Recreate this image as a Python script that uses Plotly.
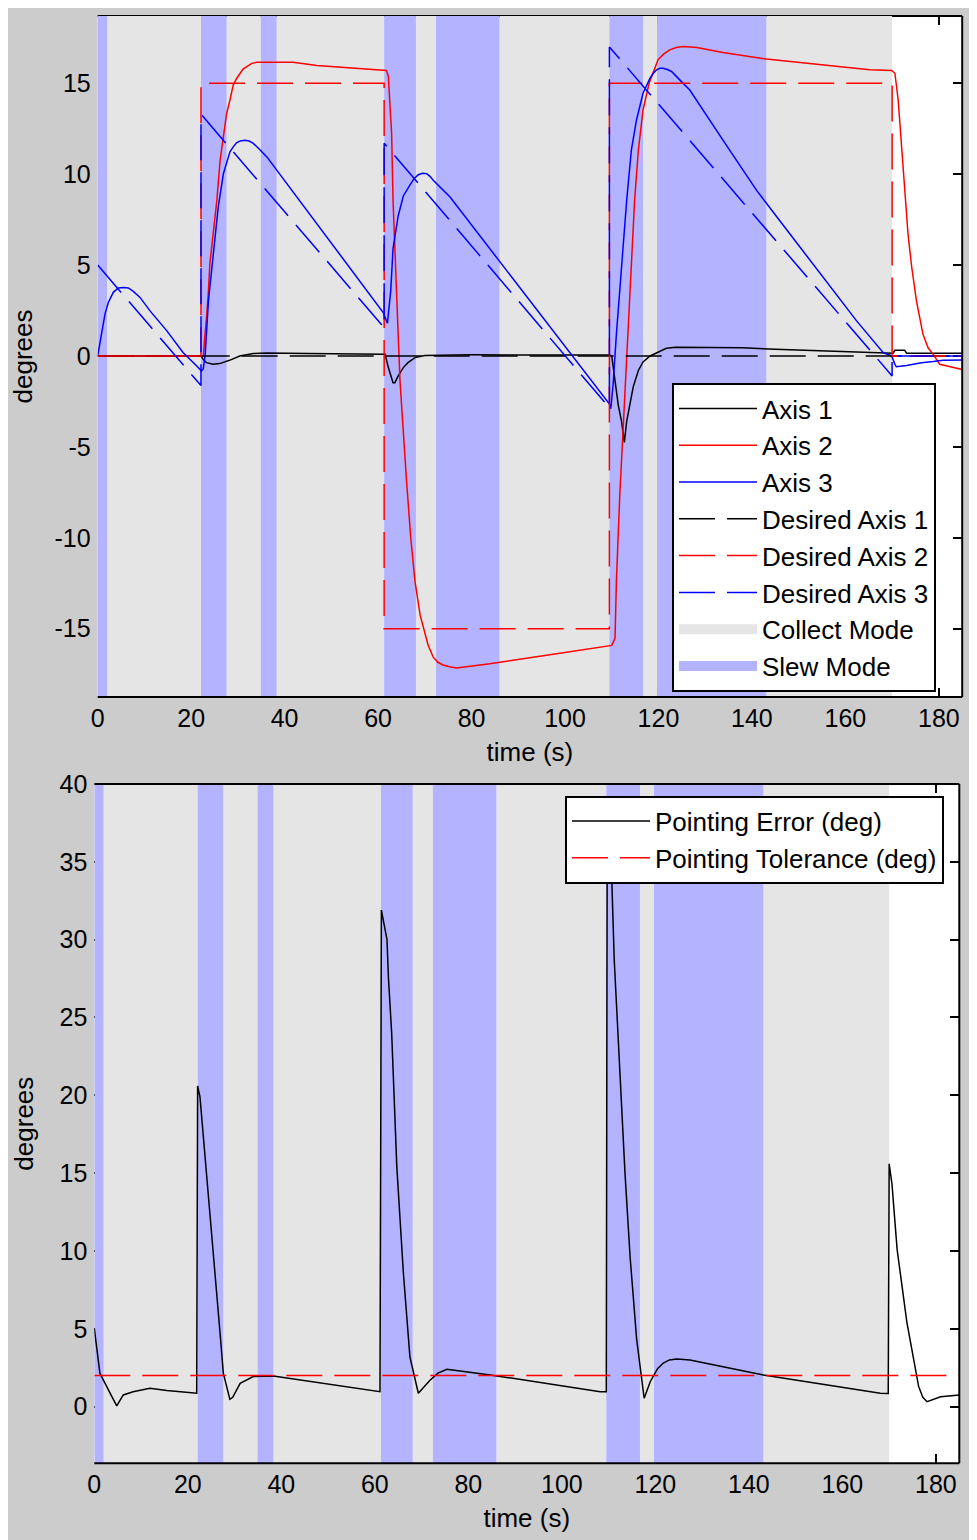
import plotly.graph_objects as go

W, H = 977, 1540
OFF = 8  # the page's body margin; figure coordinates = page coordinates - OFF

# ---------------- data ----------------
slew_start = [0.0, 22.1, 34.9, 61.3, 72.4, 109.5, 119.7]
slew_end = [2.0, 27.6, 38.3, 68.1, 86.0, 116.7, 143.1]
collect_start = [2.0, 27.6, 38.3, 68.1, 86.0, 116.7, 143.1]
collect_end = [22.1, 34.9, 61.3, 72.4, 109.5, 119.7, 170.0]

t_ax1 = [0, 22.1, 22.6, 23.3, 24.7, 26.1, 28.2, 30.4, 33.3, 36.2, 45, 55, 61.5, 62.2, 62.9, 63.2,
         63.6, 64.3, 65.4, 66.4, 67.9, 70, 80, 95, 109.5, 110.0, 110.7, 111.4, 112.1, 112.4, 112.7,
         113.2, 113.9, 114.6, 115.7, 116.7, 118.2, 119.6, 121.7, 123.7, 130, 138, 145, 155, 165,
         170.0, 170.2, 170.6, 172.7, 173.1, 178, 185]
ax1 = [0, 0, -0.2, -0.37, -0.46, -0.42, -0.24, 0.0, 0.13, 0.16, 0.14, 0.12, 0.1, -0.64, -1.2, -1.47,
       -1.47, -1.1, -0.64, -0.37, -0.09, 0.02, 0.06, 0.06, 0.05, 0.0, -1.4, -2.7, -3.6, -4.1, -4.75,
       -3.6, -2.65, -1.7, -0.8, -0.33, 0.0, 0.18, 0.42, 0.48, 0.47, 0.45, 0.37, 0.28, 0.2,
       0.18, 0.15, 0.31, 0.31, 0.15, 0.15, 0.15]

t_ax2 = [0, 22.6, 22.96, 23.3, 23.7, 24.0, 24.7, 25.5, 26.2, 26.9, 27.6, 28.3, 29.0, 29.7, 30.4,
         31.1, 31.9, 32.9, 34.0, 41.8, 46.9, 56.1, 61.8, 62.2, 62.9, 63.2, 63.6, 64.0, 64.3, 64.7,
         65.6, 66.1, 67.0, 67.9, 69.0, 69.8, 70.7, 71.8, 72.8, 73.9, 75.3, 76.8, 78.9, 81.8, 83.9,
         98.2, 110.0, 110.7, 111.0, 111.7, 112.4, 113.0, 113.5, 114.2, 114.9, 115.7, 116.7, 118.0,
         118.9, 119.9, 121.1, 122.4, 123.8, 125.3, 128.2, 133.8, 143.1, 155.2, 165.2, 169.9, 170.6,
         171.3, 172.4, 173.4, 174.2, 175.2, 176.6, 177.7, 178.8, 180.2, 185]
ax2 = [0, 0, 1.2, 2.1, 3.6, 5.06, 6.7, 8.56, 10.77, 12.05, 13.35, 14.08, 14.9, 15.25, 15.55,
       15.78, 15.92, 16.08, 16.16, 16.16, 15.98, 15.79, 15.7, 15.37, 12.24, 8.56, 6.17, 3.04, 1.2,
       -1.4, -5.06, -6.9, -10.03, -12.4, -14.26, -15.1, -15.9, -16.57, -16.85, -17.0, -17.1, -17.16,
       -17.1, -16.99, -16.93, -16.38, -15.92, -15.55, -12.4, -7.8, -4.14, -1.8, 1.2, 4.88, 8.56,
       11.32, 13.53, 15.0, 15.65, 16.29, 16.6, 16.84, 16.97, 17.02, 16.97, 16.69, 16.33, 16.01,
       15.74, 15.7, 15.55, 14.08, 10.4, 6.72, 4.88, 3.04, 1.2, 0.45, 0.09, -0.46, -0.74]

t_ax3 = [0, 0.28, 0.86, 1.56, 2.27, 3.34, 4.41, 5.48, 6.55, 7.62, 9.05, 11.2, 14.8, 18.3, 21.2,
         22.2, 22.6, 23.0, 23.7, 24.7, 25.8, 26.9, 28.3, 29.0, 29.7, 30.5, 31.5, 32.4, 33.3, 34.5,
         36.2, 61.1, 61.5, 62.0, 62.7, 63.2, 64.3, 65.4, 66.8, 67.7, 68.6, 69.5, 70.4, 71.1, 71.8,
         73.0, 75.4, 109.6, 109.8, 110.3, 111.0, 112.1, 113.2, 114.2, 115.3, 116.7, 118.2, 118.9,
         119.6, 120.3, 121.0, 121.9, 122.8, 124.5, 126.7, 133.8, 141.0, 148.1, 155.2, 162.4, 168.1,
         169.9, 170.6, 170.9, 173.1, 176.3, 178.8, 180.9, 185]
ax3 = [0, 0.46, 1.38, 2.3, 2.94, 3.5, 3.74, 3.77, 3.74, 3.55, 3.22, 2.48, 1.38, 0.18, -0.55,
       -0.83, -0.7, 0.09, 3.04, 5.6, 8.2, 10.03, 11.23, 11.5, 11.72, 11.83, 11.87, 11.82, 11.69, 11.4,
       10.95, 2.39, 2.1, 1.8, 3.55, 5.9, 7.7, 8.8, 9.4, 9.75, 9.97, 10.05, 10.03, 9.88, 9.66,
       9.35, 8.74, -2.67, -2.9, -1.56, 1.2, 4.88, 8.56, 11.32, 12.98, 14.45, 15.28, 15.55,
       15.74, 15.82, 15.83, 15.76, 15.65, 15.2, 14.63, 11.87, 9.11, 6.72, 4.32, 1.93, 0.18,
       0.0, -0.46, -0.59, -0.52, -0.37, -0.31, -0.24, -0.22]

t_des1 = [0, 185]
des1 = [0, 0]
t_des2 = [0, 22.1, 22.1, 61.3, 61.3, 109.5, 109.5, 170.0, 170.0, 185]
des2 = [0, 0, 15, 15, -15, -15, 15, 15, 0, 0]
t_des3 = [0, 22.1, 22.1, 61.3, 61.3, 109.5, 109.5, 170.0, 170.0, 185]
des3 = [5.0, -1.63, 13.3, 1.55, 11.7, -2.85, 17.0, -1.1, 0, 0]

t_err = [0, 1.2, 3.4, 4.8, 6.2, 8.3, 11.9, 15.5, 21.9, 22.1, 22.6, 23.3, 24.0, 25.5, 26.9, 27.6,
         29.0, 29.6, 31.2, 34.0, 38.3, 61.1, 61.4, 62.6, 62.9, 63.6, 64.3, 64.7, 66.1, 67.5, 69.3,
         70.5, 71.8, 73.5, 75.4, 84.7, 108.2, 109.5, 109.7, 110.2, 110.7, 111.2, 112.1, 113.2,
         113.5, 114.6, 116.0, 117.6, 118.9, 120.5, 121.7, 123.0, 124.6, 127.4, 143.1, 168.1, 169.8,
         170.0, 170.6, 171.7, 173.8, 176.3, 177.2, 178.1, 181.0, 185]
err = [5.03, 2.14, 0.85, 0.05, 0.75, 0.96, 1.18, 1.03, 0.86, 20.6, 19.9, 17.5, 15.0, 9.85, 4.7, 2.14,
       0.47, 0.6, 1.5, 1.93, 1.97, 0.96, 31.9, 30.0, 27.6, 24.0, 18.0, 15.4, 8.6, 3.2, 0.86,
       1.25, 1.7, 2.15, 2.4, 2.04, 0.96, 0.95, 37.5, 35.8, 33.6, 28.7, 23.3, 17.3,
       15.0, 9.6, 4.3, 0.54, 1.6, 2.45, 2.8, 3.0, 3.06, 3.0, 2.04, 0.86, 0.85,
       15.6, 14.3, 10.1, 5.4, 1.3, 0.6, 0.32, 0.64, 0.75]
t_tol = [0, 185]
tol = [2, 2]

x_ticks = [0, 20, 40, 60, 80, 100, 120, 140, 160, 180]
y1_ticks = [-15, -10, -5, 0, 5, 10, 15]
y1_labels = ["-15", "-10", "-5", "0", "5", "10", "15"]
y2_ticks = [0, 5, 10, 15, 20, 25, 30, 35, 40]
y2_labels = ["0", "5", "10", "15", "20", "25", "30", "35", "40"]

# ---------------- styling ----------------
XR = [0, 185]
YR1 = [-18.76, 18.70]
YR2 = [-3.64, 40]
COLLECT = "#e5e5e5"
SLEW = "#b3b3ff"
FONT = "Liberation Sans"
FS_TICK = 25
FS_TEXT = 26
DASH = "36px,12px"


def patch(starts, ends, lo, hi):
    xs, ys = [], []
    for a, b in zip(starts, ends):
        xs += [a, b, b, a, a, None]
        ys += [lo, lo, hi, hi, lo, None]
    return xs, ys


fig = go.Figure()

for xa, ya, yr in [("x", "y", YR1), ("x2", "y2", YR2)]:
    cx, cy = patch(collect_start, collect_end, yr[0], yr[1])
    fig.add_trace(go.Scatter(x=cx, y=cy, fill="toself", fillcolor=COLLECT, mode="none",
                             name="Collect Mode", xaxis=xa, yaxis=ya, showlegend=False,
                             hoverinfo="skip"))
    sx, sy = patch(slew_start, slew_end, yr[0], yr[1])
    fig.add_trace(go.Scatter(x=sx, y=sy, fill="toself", fillcolor=SLEW, mode="none",
                             name="Slew Mode", xaxis=xa, yaxis=ya, showlegend=False,
                             hoverinfo="skip"))

# legend keys for the two shaded modes
for name, col, rank in [("Collect Mode", COLLECT, 7), ("Slew Mode", SLEW, 8)]:
    fig.add_trace(go.Scatter(x=[None], y=[None], mode="lines", name=name,
                             line=dict(color=col, width=28), xaxis="x", yaxis="y",
                             legend="legend", legendrank=rank))

series = [
    ("Axis 1", t_ax1, ax1, "#000000", "solid", 1),
    ("Axis 2", t_ax2, ax2, "#ff0000", "solid", 2),
    ("Axis 3", t_ax3, ax3, "#0000ff", "solid", 3),
    ("Desired Axis 1", t_des1, des1, "#000000", DASH, 4),
    ("Desired Axis 2", t_des2, des2, "#ff0000", DASH, 5),
    ("Desired Axis 3", t_des3, des3, "#0000ff", DASH, 6),
]
for name, tx, vy, col, dash, rank in series:
    fig.add_trace(go.Scatter(x=tx, y=vy, mode="lines", name=name,
                             line=dict(color=col, width=1.5, dash=dash),
                             xaxis="x", yaxis="y", legend="legend", legendrank=rank))

fig.add_trace(go.Scatter(x=t_err, y=err, mode="lines", name="Pointing Error (deg)",
                         line=dict(color="#000000", width=1.5), xaxis="x2", yaxis="y2",
                         legend="legend2", legendrank=1))
fig.add_trace(go.Scatter(x=t_tol, y=tol, mode="lines", name="Pointing Tolerance (deg)",
                         line=dict(color="#ff0000", width=1.5, dash=DASH), xaxis="x2", yaxis="y2",
                         legend="legend2", legendrank=2))

tickfont = dict(family=FONT, size=FS_TICK, color="#000000")
titlefont = dict(family=FONT, size=FS_TEXT, color="#000000")
common_x = dict(range=XR, tickmode="array", tickvals=x_ticks, ticks="inside", ticklen=9,
                tickwidth=1.5, tickcolor="#000000", mirror="ticks", showline=False,
                showgrid=False, zeroline=False, layer="below traces", tickfont=tickfont,
                automargin=False, ticklabelstandoff=4,
                title=dict(text="time (s)", font=titlefont, standoff=11))
common_y = dict(tickmode="array", ticks="inside", ticklen=9, tickwidth=1.5, tickcolor="#000000",
                mirror="ticks", showline=False, showgrid=False, zeroline=False,
                layer="below traces", tickfont=tickfont, automargin=False, ticklabelstandoff=6,
                title=dict(text="degrees", font=titlefont, standoff=18))


def px_x(a, b):
    return [(a - OFF) / W, (b - OFF) / W]


def px_y(top, bottom):
    return [(H - (bottom - OFF)) / H, (H - (top - OFF)) / H]


X1 = px_x(97.7, 962.2)
Y1 = px_y(16, 697)
X2 = px_x(94.3, 959.3)
Y2 = px_y(784, 1463.3)

legfont = dict(family=FONT, size=FS_TEXT, color="#000000")
fig.update_layout(
    width=W, height=H,
    margin=dict(l=0, r=0, t=0, b=0),
    paper_bgcolor="#cccccc",
    plot_bgcolor="#ffffff",
    font=dict(family=FONT, size=FS_TEXT, color="#000000"),
    showlegend=True,
    xaxis=dict(domain=X1, anchor="y", **common_x),
    yaxis=dict(domain=Y1, anchor="x", range=YR1, tickvals=y1_ticks, ticktext=y1_labels, **common_y),
    xaxis2=dict(domain=X2, anchor="y2", **common_x),
    yaxis2=dict(domain=Y2, anchor="x2", range=YR2, tickvals=y2_ticks, ticktext=y2_labels, **common_y),
    legend=dict(x=(804 - OFF) / W, xanchor="center", y=(H - (537.5 - OFF)) / H, yanchor="middle",
                bgcolor="#ffffff", bordercolor="#000000", borderwidth=2,
                font=legfont, itemwidth=78, tracegroupgap=0),
    legend2=dict(x=(944 - OFF) / W, xanchor="right", y=(H - (839.5 - OFF)) / H, yanchor="middle",
                 bgcolor="#ffffff", bordercolor="#000000", borderwidth=2,
                 font=legfont, itemwidth=78),
    shapes=[
        # frame of upper axes
        dict(type="line", xref="x domain", yref="y domain", x0=0, x1=1, y0=0, y1=0,
             line=dict(color="#000000", width=2), layer="above"),
        dict(type="line", xref="x domain", yref="y domain", x0=1, x1=1, y0=0, y1=1,
             line=dict(color="#000000", width=2), layer="above"),
        dict(type="line", xref="x domain", yref="y domain", x0=0, x1=1, y0=1, y1=1,
             line=dict(color="#000000", width=2), layer="below"),
        # frame of lower axes
        dict(type="line", xref="x2 domain", yref="y2 domain", x0=0, x1=1, y0=0, y1=0,
             line=dict(color="#000000", width=2), layer="above"),
        dict(type="line", xref="x2 domain", yref="y2 domain", x0=1, x1=1, y0=0, y1=1,
             line=dict(color="#000000", width=2), layer="above"),
        dict(type="line", xref="x2 domain", yref="y2 domain", x0=0, x1=1, y0=1, y1=1,
             line=dict(color="#000000", width=2), layer="above"),
    ],
)

fig.write_html("out.html")
